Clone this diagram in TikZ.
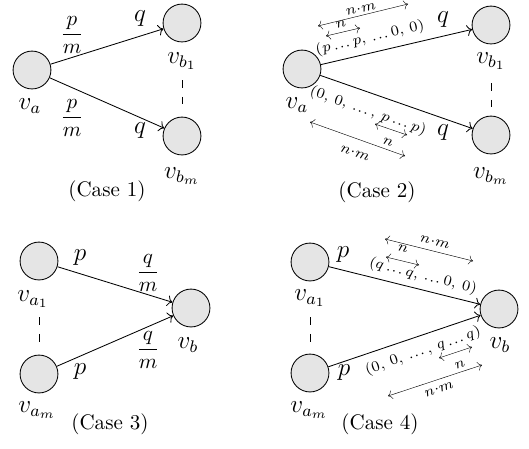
\documentclass[tikz,border=0pt]{standalone}
\usepackage{amsmath}
\usepackage{tikz}
\usetikzlibrary{arrows.meta,calc,positioning}
\newcommand{\tdots}{\mathinner{.\mkern1mu.\mkern1mu.}}
\tikzset{
  vertex/.style={draw, circle, fill=gray!20, minimum size=18pt, inner sep=0pt, thin},
  vname/.style={inner sep=0pt, font=\large},
  weight/.style={inner sep=0pt, font=\large},
  caselabel/.style={inner sep=0pt},
  anno/.style={inner sep=0pt, font=\scriptsize},
  edge/.style={->, thin},
  span/.style={<->, very thin},
  gap/.style={thin, dash pattern=on 4pt off 4pt}
}

\begin{document}
\begin{tikzpicture}[x=0.475pt,y=-0.475pt]
  \useasboundingbox (0,0) rectangle (529,448);

  % Case 1
  \node[vertex] (a1) at (32,70) {};
  \node[vertex] (b11) at (182,23) {};
  \node[vertex] (b1m) at (182,136) {};
  \node[vname] (la1) at (30,106) {$v_a$};
  \node[vname] (lb11) at (182,61) {$v_{b_1}$};
  \node[vname] (lb1m) at (182,176) {$v_{b_m}$};
  \draw[edge] (a1) -- (b11);
  \draw[edge] (a1) -- (b1m);
  \node[weight, font=\normalsize] (w11) at (72,35) {$\dfrac{p}{m}$};
  \node[weight, font=\normalsize] (w12) at (72,118) {$\dfrac{p}{m}$};
  \node[weight] (w13) at (140,19) {$q$};
  \node[weight] (w14) at (140,131) {$q$};
  \coordinate (g1s) at (182,80);
  \coordinate (g1e) at (182,104);
  \draw[gap] (g1s) -- (g1e);
  \node[caselabel] (c1) at (107,191) {(Case 1)};

  % Case 2
  \node[vertex] (a2) at (302,69) {};
  \node[vertex] (b21) at (491,25) {};
  \node[vertex] (b2m) at (491,135) {};
  \node[vname] (la2) at (297,105) {$v_a$};
  \node[vname] (lb21) at (491,61) {$v_{b_1}$};
  \node[vname] (lb2m) at (491,176) {$v_{b_m}$};
  \draw[edge] (a2) -- (b21);
  \draw[edge] (a2) -- (b2m);
  \node[weight] (w21) at (443,20) {$q$};
  \node[weight] (w22) at (443,133) {$q$};
  \coordinate (g2s) at (491,83);
  \coordinate (g2e) at (491,107);
  \draw[gap] (g2s) -- (g2e);
  \node[caselabel] (c2) at (377,192) {(Case 2)};
  % upper edge: p first, then zeros
  \node[anno, rotate=13] (t21) at (370,38) {$(p\tdots p,\, \tdots 0,\, 0)$};
  \coordinate (n21s) at (326,36);
  \coordinate (n21e) at (360,28);
  \draw[span] (n21s) -- (n21e);
  \node[anno, rotate=13] (n21) at (341,24) {$n$};
  \coordinate (m21s) at (318,26);
  \coordinate (m21e) at (408,4);
  \draw[span] (m21s) -- (m21e);
  \node[anno, rotate=13] (m21) at (361,9) {$n{\cdot}m$};
  % lower edge: zeros first, then p
  \node[anno, rotate=-19] (t22) at (368,111) {$(0,\, 0,\, \tdots,\, p\tdots p)$};
  \coordinate (n22s) at (375,124);
  \coordinate (n22e) at (407,135);
  \draw[span] (n22s) -- (n22e);
  \node[anno, rotate=-19] (n22) at (388,142) {$n$};
  \coordinate (m22s) at (310,122);
  \coordinate (m22e) at (405,156);
  \draw[span] (m22s) -- (m22e);
  \node[anno, rotate=-19] (m22) at (355,153) {$n{\cdot}m$};

  % Case 3
  \node[vertex] (a31) at (39,261) {};
  \node[vertex] (a3m) at (39,374) {};
  \node[vertex] (b3) at (191,308) {};
  \node[vname] (la31) at (33,299) {$v_{a_1}$};
  \node[vname] (la3m) at (37,410) {$v_{a_m}$};
  \node[vname] (lb3) at (188,345) {$v_b$};
  \draw[edge] (a31) -- (b3);
  \draw[edge] (a3m) -- (b3);
  \node[weight] (w31) at (80,258) {$p$};
  \node[weight] (w32) at (80,372) {$p$};
  \node[weight, font=\normalsize] (w33) at (148,273) {$\dfrac{q}{m}$};
  \node[weight, font=\normalsize] (w34) at (148,350) {$\dfrac{q}{m}$};
  \coordinate (g3s) at (39,317);
  \coordinate (g3e) at (39,342);
  \draw[gap] (g3s) -- (g3e);
  \node[caselabel] (c3) at (110,424) {(Case 3)};

  % Case 4
  \node[vertex] (a41) at (310,262) {};
  \node[vertex] (a4m) at (310,373) {};
  \node[vertex] (b4) at (499,309) {};
  \node[vname] (la41) at (310,298) {$v_{a_1}$};
  \node[vname] (la4m) at (309,410) {$v_{a_m}$};
  \node[vname] (lb4) at (500,345) {$v_b$};
  \draw[edge] (a41) -- (b4);
  \draw[edge] (a4m) -- (b4);
  \node[weight] (w41) at (343,255) {$p$};
  \node[weight] (w42) at (344,373) {$p$};
  \coordinate (g4s) at (310,317);
  \coordinate (g4e) at (310,342);
  \draw[gap] (g4s) -- (g4e);
  \node[caselabel] (c4) at (380,424) {(Case 4)};
  % upper edge: q first, then zeros
  \node[anno, rotate=-14] (t41) at (423,276) {$(q\tdots q,\, \tdots 0,\, 0)$};
  \coordinate (n41s) at (386,257);
  \coordinate (n41e) at (419,265);
  \draw[span] (n41s) -- (n41e);
  \node[anno, rotate=-14] (n41) at (403,249) {$n$};
  \coordinate (m41s) at (385,239);
  \coordinate (m41e) at (473,261);
  \draw[span] (m41s) -- (m41e);
  \node[anno, rotate=-14] (m41) at (435,242) {$n{\cdot}m$};
  % lower edge: zeros first, then q
  \node[anno, rotate=19] (t42) at (423,351) {$(0,\, 0,\, \tdots,\, q\tdots q)$};
  \coordinate (n42s) at (439,358);
  \coordinate (n42e) at (472,347);
  \draw[span] (n42s) -- (n42e);
  \node[anno, rotate=19] (n42) at (460,365) {$n$};
  \coordinate (m42s) at (388,396);
  \coordinate (m42e) at (482,365);
  \draw[span] (m42s) -- (m42e);
  \node[anno, rotate=19] (m42) at (439,389) {$n{\cdot}m$};
\end{tikzpicture}
\end{document}
